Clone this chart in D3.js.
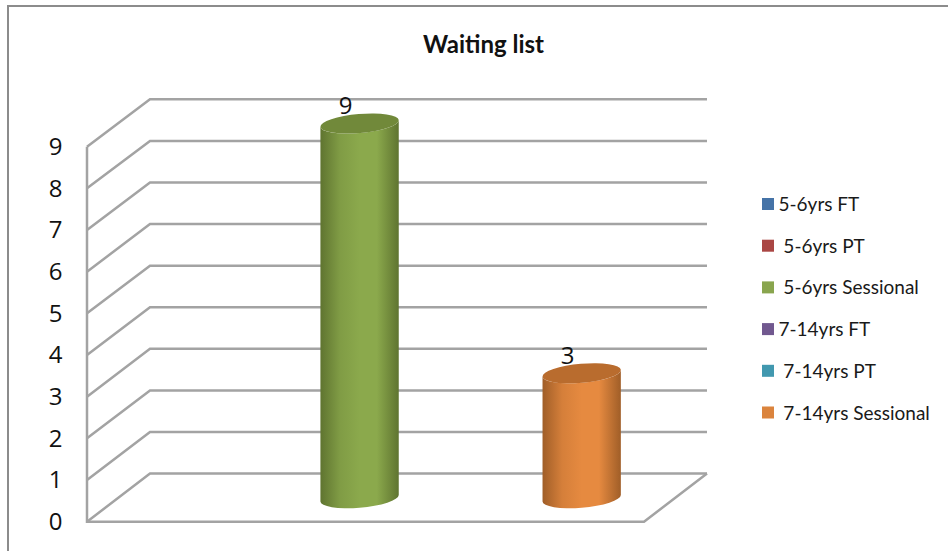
<!DOCTYPE html>
<html>
<head>
<meta charset="utf-8">
<script src="https://cdn.jsdelivr.net/npm/d3@7"></script>
<style>
html,body{margin:0;padding:0;background:#fff;overflow:hidden}
svg{display:block}
.leg{font-family:Lato,sans-serif;font-size:19px;fill:#1a1a1a;white-space:pre}
.tick text,.val{font-family:"Open Sans",sans-serif;font-size:24px;fill:#111}
</style>
</head>
<body>
<svg id="c" width="948" height="551"></svg>
<script>
const title = "Waiting list";
const seriesNames = ["5-6yrs FT","5-6yrs PT","5-6yrs Sessional","7-14yrs FT","7-14yrs PT","7-14yrs Sessional"];
const legendLabels = ["5-6yrs FT"," 5-6yrs PT"," 5-6yrs Sessional","7-14yrs FT"," 7-14yrs PT"," 7-14yrs Sessional"];
const seriesValues = [null,null,9,null,null,3];
const legendColors = ["#4573a7","#aa4644","#89a54e","#71588f","#4198af","#db843d"];
const bodyEdge = ["#35557c","#7e3433","#5f7430","#53416a","#307082","#a05e28"];
const bodyMid  = ["#4f81bd","#c0504d","#8ba94c","#8064a2","#4bacc6","#e68a40"];
const capColors = ["#3c5f8c","#8c3a38","#71893a","#5d4a78","#377f92","#b96c2e"];
const yTicks = [0,1,2,3,4,5,6,7,8,9];

const svg = d3.select("#c");
const defs = svg.append("defs");
const grid = "#a3a3a3";

// chart frame
svg.append("path").attr("d","M8,551V6H948").attr("fill","none").attr("stroke","#8c8c8c").attr("stroke-width",2);

svg.append("text").attr("x",483.5).attr("y",53).attr("text-anchor","middle")
  .attr("font-family","Lato,sans-serif").attr("font-weight",700).attr("font-size",24).attr("fill","#111").text(title);

const yFront = d3.scaleLinear().domain([0,9]).range([521.7,146.7]);
const yBack  = d3.scaleLinear().domain([0,9]).range([473.6,99.3]);
const yBar   = d3.scaleLinear().domain([0,9]).range([498.2,123.5]);
const x = d3.scaleBand().domain(seriesNames).range([174.5,618.7]);
const xF0 = 87, xB0 = 150, xB1 = 707, xF1 = 644;

const g = svg.append("g").attr("fill","none").attr("stroke",grid).attr("stroke-width",2.5);
yTicks.forEach(v=>{
  g.append("path").attr("d",`M${xF0},${yFront(v)}L${xB0},${yBack(v)}H${xB1}`);
});
g.append("path").attr("d",`M${xF0},${yFront(9)}V${yFront(0)}H${xF1}L${xB1},${yBack(0)}`);

// axis labels
const ax = d3.axisLeft(yFront).tickValues(yTicks).tickFormat(d3.format("d")).tickSize(0).tickPadding(0);
const axG = svg.append("g").attr("transform","translate(62.5,0)").call(ax);
axG.select(".domain").remove();

// cylinders
const rx = 39.3, ry = 9.5, tilt = -5, rad = tilt*Math.PI/180;
const hw = Math.sqrt(rx*rx*Math.cos(rad)**2 + ry*ry*Math.sin(rad)**2);
const dy = (rx*rx-ry*ry)*Math.sin(-rad)*Math.cos(rad)/hw;

seriesNames.forEach((s,i)=>{
  const v = seriesValues[i];
  if(v===null) return;
  const cx = x(s)+x.bandwidth()/2;
  const yb = yBar(0), yt = yBar(v);
  const id = "grad"+i;
  const lg = defs.append("linearGradient").attr("id",id).attr("x1","0").attr("x2","1").attr("y1","0").attr("y2","0");
  [[0,bodyEdge[i]],[.25,d3.interpolateRgb(bodyEdge[i],bodyMid[i])(.75)],[.5,bodyMid[i]],[.72,bodyMid[i]],[1,bodyEdge[i]]]
    .forEach(([o,c])=>lg.append("stop").attr("offset",o).attr("stop-color",c));
  svg.append("path")
    .attr("d",`M${cx-hw},${yt+dy}V${yb+dy}A${rx},${ry} ${tilt} 0 0 ${cx+hw},${yb-dy}V${yt-dy}A${rx},${ry} ${tilt} 0 1 ${cx-hw},${yt+dy}Z`)
    .attr("fill",`url(#${id})`);
  svg.append("ellipse").attr("cx",cx).attr("cy",yt).attr("rx",rx).attr("ry",ry)
    .attr("transform",`rotate(${tilt} ${cx} ${yt})`).attr("fill",capColors[i]);
  svg.append("text").attr("class","val").attr("x",cx-14).attr("y",yt-9.5).attr("text-anchor","middle").text(v);
});

// legend
const yLeg = d3.scalePoint().domain(seriesNames).range([204,412.5]);
const leg = svg.append("g").selectAll("g").data(seriesNames).join("g")
  .attr("transform",d=>`translate(762,${yLeg(d)})`);
leg.append("rect").attr("x",0).attr("y",-6).attr("width",12).attr("height",12).attr("fill",(d,i)=>legendColors[i]);
leg.append("text").attr("class","leg").attr("x",16.5).attr("y",7).text((d,i)=>legendLabels[i]);
</script>
</body>
</html>
